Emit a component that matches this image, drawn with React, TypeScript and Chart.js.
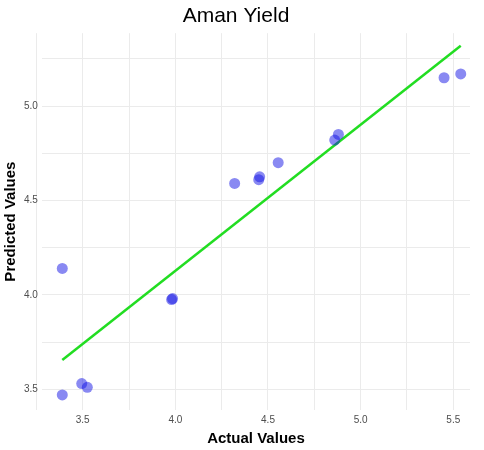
import { useEffect, useRef } from "react";
import { Chart, registerables } from "chart.js";

Chart.register(...registerables);

const actual = [3.39, 3.39, 3.495, 3.525, 3.98, 3.985, 4.32, 4.45, 4.455, 4.555, 4.86, 4.88, 5.45, 5.54];
const predicted = [3.47, 4.14, 3.53, 3.51, 3.975, 3.98, 4.59, 4.61, 4.625, 4.70, 4.82, 4.85, 5.15, 5.17];
const fitX = [3.39, 5.54];
const fitY = [3.655, 5.32];

export default function App() {
  const canvasRef = useRef<HTMLCanvasElement>(null);

  useEffect(() => {
    document.body.style.margin = "0";
    const ctx = canvasRef.current?.getContext("2d");
    if (!ctx) return;
    const half = (v: number | string) => {
      const n = Number(v);
      return Math.abs(n * 2 - Math.round(n * 2)) < 1e-6 ? n.toFixed(1) : "";
    };
    const chart = new Chart(ctx, {
      type: "scatter",
      data: {
        datasets: [
          {
            data: actual.map((x, i) => ({ x, y: predicted[i] })),
            backgroundColor: "rgba(20,20,230,0.5)",
            borderWidth: 0,
            pointRadius: 5.5,
          },
          {
            type: "line",
            data: fitX.map((x, i) => ({ x, y: fitY[i] })),
            borderColor: "#22dd22",
            borderWidth: 2.5,
            pointRadius: 0,
            fill: false,
          },
        ],
      },
      options: {
        animation: false,
        responsive: false,
        layout: { padding: { left: 2, right: 14, top: 2, bottom: 2 } },
        plugins: {
          legend: { display: false },
          tooltip: { enabled: false },
          title: {
            display: true,
            text: "Aman Yield",
            color: "#000",
            font: { family: "Liberation Sans", size: 21, weight: "normal" },
            padding: { top: 2, bottom: 4 },
          },
        },
        scales: {
          x: {
            type: "linear",
            min: 3.28,
            max: 5.59,
            border: { display: false },
            grid: { color: "#ebebeb", drawTicks: false },
            ticks: {
              stepSize: 0.25,
              callback: half,
              color: "#4d4d4d",
              font: { family: "Liberation Sans", size: 10 },
              padding: 4,
            },
            afterBuildTicks: (axis) => {
              axis.ticks = [3.25, 3.5, 3.75, 4, 4.25, 4.5, 4.75, 5, 5.25, 5.5].map((value) => ({ value }));
            },
            title: {
              display: true,
              text: "Actual Values",
              color: "#000",
              font: { family: "Liberation Sans", size: 15, weight: "bold" },
              padding: { top: 0, bottom: 0 },
            },
          },
          y: {
            min: 3.39,
            max: 5.386,
            border: { display: false },
            grid: { color: "#ebebeb", drawTicks: false },
            afterBuildTicks: (axis) => {
              axis.ticks = [3.5, 3.75, 4, 4.25, 4.5, 4.75, 5, 5.25].map((value) => ({ value }));
            },
            ticks: {
              callback: half,
              color: "#4d4d4d",
              font: { family: "Liberation Sans", size: 10 },
              padding: 4,
            },
            title: {
              display: true,
              text: "Predicted Values",
              color: "#000",
              font: { family: "Liberation Sans", size: 15, weight: "bold" },
              padding: { top: 0, bottom: 0 },
            },
          },
        },
      },
    });
    return () => chart.destroy();
  }, []);

  return (
    <div style={{ width: 484, height: 450, background: "#fff" }}>
      <canvas ref={canvasRef} width={484} height={450} />
    </div>
  );
}
